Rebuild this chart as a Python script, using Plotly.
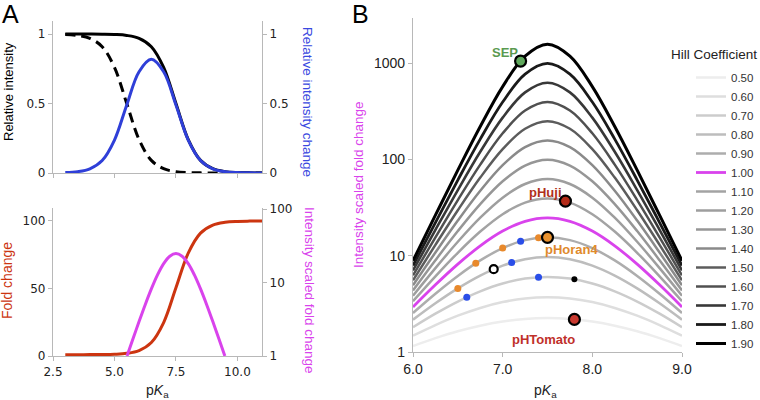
import math
import plotly.graph_objects as go

# ---------------- Panel A data ----------------
pka_a = [3.0, 3.5, 4.0, 4.5, 5.0, 5.5, 6.0, 6.5, 7.0, 7.5, 8.0, 8.5, 9.0, 9.5, 10.0, 10.5, 11.0]
intensity_ph75 = [0.99997, 0.9999, 0.99968, 0.9990, 0.99685, 0.9901, 0.9693, 0.9091, 0.7597, 0.5,
                  0.2403, 0.0909, 0.0307, 0.0099, 0.00315, 0.001, 0.0003]
intensity_ph55 = [0.99685, 0.9901, 0.9693, 0.9091, 0.7597, 0.5, 0.2403, 0.0909, 0.0307, 0.0099,
                  0.00315, 0.001, 0.0003, 0.0001, 0.00003, 0.00001, 0.0]
intensity_change = [0.0031, 0.0098, 0.0304, 0.0899, 0.2372, 0.4901, 0.7290, 0.8182, 0.7290, 0.4901,
                    0.2372, 0.0899, 0.0304, 0.0098, 0.0031, 0.0010, 0.0003]
fold_change = [1.003, 1.010, 1.031, 1.099, 1.312, 1.980, 4.035, 10.0, 24.78, 50.5,
               76.21, 91.0, 96.97, 99.02, 99.69, 99.90, 99.97]
pka_a_scaled = [5.51, 5.75, 6.0, 6.25, 6.5, 6.75, 7.0, 7.25, 7.5, 7.75, 8.0, 8.25, 8.5, 8.75, 9.0, 9.25, 9.49]
scaled_fold_a = [1.0, 1.70, 2.94, 4.99, 8.18, 12.69, 18.07, 22.81, 24.75, 22.81, 18.07, 12.69,
                 8.18, 4.99, 2.94, 1.70, 1.0]

# ---------------- Panel B data ----------------
pka_b = [6.0, 6.25, 6.5, 6.75, 7.0, 7.25, 7.5, 7.75, 8.0, 8.25, 8.5, 8.75, 9.0]
hill_labels = ["0.50", "0.60", "0.70", "0.80", "0.90", "1.00", "1.10", "1.20", "1.30",
               "1.40", "1.50", "1.60", "1.70", "1.80", "1.90"]
curve_050 = [1.154, 1.394, 1.643, 1.878, 2.073, 2.204, 2.250, 2.204, 2.073, 1.878, 1.643, 1.394, 1.154]
curve_060 = [1.475, 1.903, 2.383, 2.870, 3.302, 3.604, 3.712, 3.604, 3.302, 2.870, 2.383, 1.903, 1.475]
curve_070 = [1.812, 2.504, 3.345, 4.270, 5.148, 5.792, 6.030, 5.792, 5.148, 4.270, 3.345, 2.504, 1.812]
curve_080 = [2.167, 3.208, 4.583, 6.227, 7.904, 9.206, 9.703, 9.206, 7.904, 6.227, 4.583, 3.208, 2.167]
curve_090 = [2.542, 4.030, 6.167, 8.944, 12.003, 14.527, 15.524, 14.527, 12.003, 8.944, 6.167, 4.030, 2.542]
curve_100 = [2.942, 4.990, 8.182, 12.690, 18.071, 22.808, 24.750, 22.808, 18.071, 12.690, 8.182, 4.990, 2.942]
curve_110 = [3.373, 6.115, 10.736, 17.830, 27.014, 35.676, 39.37, 35.676, 27.014, 17.830, 10.736, 6.115, 3.373]
curve_120 = [3.842, 7.434, 13.968, 24.847, 40.144, 55.641, 62.55, 55.641, 40.144, 24.847, 13.968, 7.434, 3.842]
curve_130 = [4.357, 8.986, 18.048, 34.392, 59.352, 86.578, 99.28, 86.578, 59.352, 34.392, 18.048, 8.986, 4.357]
curve_140 = [4.925, 10.814, 23.195, 47.334, 87.356, 134.45, 157.49, 134.45, 87.356, 47.334, 23.195, 10.814, 4.925]
curve_150 = [5.555, 12.974, 29.68, 64.83, 128.06, 208.42, 249.75, 208.42, 128.06, 64.83, 29.68, 12.974, 5.555]
curve_160 = [6.256, 15.527, 37.86, 88.43, 187.04, 322.59, 395.98, 322.59, 187.04, 88.43, 37.86, 15.527, 6.256]
curve_170 = [7.037, 18.55, 48.16, 120.2, 272.3, 498.5, 627.7, 498.5, 272.3, 120.2, 48.16, 18.55, 7.037]
curve_180 = [7.910, 22.13, 61.13, 162.9, 395.3, 769.4, 995.0, 769.4, 395.3, 162.9, 61.13, 22.13, 7.910]
curve_190 = [8.886, 26.38, 77.46, 220.2, 572.2, 1185.7, 1577.2, 1185.7, 572.2, 220.2, 77.46, 26.38, 8.886]

# probe points
orange_x = [6.5, 6.7, 7.0, 7.4]
orange_y = [4.58, 8.35, 12.0, 15.36]
blue_x = [6.6, 7.1, 7.2, 7.4]
blue_y = [3.71, 8.50, 14.12, 5.99]
black_x = [7.8]
black_y = [5.69]
open_x = [6.9]
open_y = [7.25]
named_labels = ["SEP", "pHuji", "pHoran4", "pHTomato"]
named_x = [7.2, 7.7, 7.5, 7.8]
named_y = [1054, 36.95, 15.52, 2.18]

# ---------------- styling ----------------
W, H = 760, 400
def px(x): return x / W
def py(y): return 1 - y / H

BLUE = "#2f3fd8"
RED = "#cc3510"
MAGENTA = "#d943ec"
AXIS = "#b8b8b8"
curve_colors = ["#ededed", "#dedede", "#cccccc", "#bdbdbd", "#adadad", MAGENTA, "#a3a3a3", "#9e9e9e",
                "#969696", "#8a8a8a", "#5c5c5c", "#505050", "#383838", "#1a1a1a", "#000000"]
curve_widths = [2.5, 2.5, 2.5, 2.5, 2.5, 2.8, 2.5, 2.5, 2.5, 2.5, 2.5, 2.5, 2.6, 2.8, 3.0]
curves_b = [curve_050, curve_060, curve_070, curve_080, curve_090, curve_100, curve_110, curve_120,
            curve_130, curve_140, curve_150, curve_160, curve_170, curve_180, curve_190]

fig = go.Figure()

# Panel A top
fig.add_trace(go.Scatter(x=pka_a, y=intensity_ph55, mode="lines",
                         line=dict(color="black", width=3, dash="10px,6px", shape="spline"),
                         xaxis="x", yaxis="y", showlegend=False))
fig.add_trace(go.Scatter(x=pka_a, y=intensity_ph75, mode="lines", line=dict(color="black", width=3, shape="spline"),
                         xaxis="x", yaxis="y", showlegend=False))
fig.add_trace(go.Scatter(x=pka_a, y=intensity_change, mode="lines", line=dict(color=BLUE, width=3, shape="spline"),
                         xaxis="x", yaxis="y2", showlegend=False))
# Panel A bottom
fig.add_trace(go.Scatter(x=pka_a, y=fold_change, mode="lines", line=dict(color=RED, width=3, shape="spline"),
                         xaxis="x2", yaxis="y3", showlegend=False))
fig.add_trace(go.Scatter(x=pka_a_scaled, y=scaled_fold_a, mode="lines", line=dict(color=MAGENTA, width=3, shape="spline"),
                         xaxis="x2", yaxis="y4", showlegend=False))

# Panel B curves
for lab, vals, col, w in zip(hill_labels, curves_b, curve_colors, curve_widths):
    fig.add_trace(go.Scatter(x=pka_b, y=vals, mode="lines", name=lab,
                             line=dict(color=col, width=w, shape="spline"),
                             xaxis="x3", yaxis="y5", showlegend=True))

fig.add_trace(go.Scatter(x=orange_x, y=orange_y, mode="markers", marker=dict(color="#e8892c", size=7),
                         xaxis="x3", yaxis="y5", showlegend=False))
fig.add_trace(go.Scatter(x=blue_x, y=blue_y, mode="markers", marker=dict(color="#2a4ee8", size=7),
                         xaxis="x3", yaxis="y5", showlegend=False))
fig.add_trace(go.Scatter(x=black_x, y=black_y, mode="markers", marker=dict(color="#000000", size=6),
                         xaxis="x3", yaxis="y5", showlegend=False))
fig.add_trace(go.Scatter(x=open_x, y=open_y, mode="markers",
                         marker=dict(color="white", size=8, line=dict(color="black", width=2.2)),
                         xaxis="x3", yaxis="y5", showlegend=False))
fig.add_trace(go.Scatter(x=named_x, y=named_y, mode="markers",
                         marker=dict(color=["#5fa85c", "#b32a18", "#e8912e", "#c9392f"], size=11,
                                     line=dict(color="black", width=2.2)),
                         xaxis="x3", yaxis="y5", showlegend=False))

tickfont_a = dict(family="DejaVu Sans", size=12, color="#222")
tickfont_b = dict(family="Liberation Sans", size=14, color="#222")
common = dict(showline=True, linecolor=AXIS, linewidth=1.2, ticks="outside", ticklen=4, tickcolor=AXIS,
              showgrid=False, zeroline=False, automargin=False)

fig.update_layout(
    width=W, height=H, margin=dict(l=0, r=0, t=0, b=0, autoexpand=False),
    paper_bgcolor="white", plot_bgcolor="white",
    xaxis=dict(domain=[px(53), px(262)], range=[2.5, 11], anchor="y", tickvals=[2.5, 5, 7.5, 10],
               showticklabels=False, **common),
    yaxis=dict(domain=[py(173), py(21)], range=[0, 1.094], anchor="x", tickvals=[0, 0.5, 1],
               ticktext=["0", "0.5", "1"], tickfont=tickfont_a, **common),
    yaxis2=dict(overlaying="y", side="right", anchor="x", range=[0, 1.094], tickvals=[0, 0.5, 1],
                ticktext=["0", "0.5", "1"], tickfont=tickfont_a, **common),
    xaxis2=dict(domain=[px(53), px(262)], range=[2.5, 11], anchor="y3", tickvals=[2.5, 5, 7.5, 10],
                ticktext=["2.5", "5.0", "7.5", "10.0"], tickfont=tickfont_a, **common),
    yaxis3=dict(domain=[py(356), py(208)], range=[0, 109.6], anchor="x2", tickvals=[0, 50, 100],
                tickfont=tickfont_a, **common),
    yaxis4=dict(overlaying="y3", side="right", anchor="x2", type="log", range=[0, 2.014],
                tickvals=[1, 10, 100], ticktext=["1", "10", "100"], tickfont=tickfont_a, **common),
    xaxis3=dict(domain=[px(413), px(682)], range=[6, 9], anchor="y5", tickvals=[6, 7, 8, 9],
                ticktext=["6.0", "7.0", "8.0", "9.0"], tickfont=tickfont_b, **common),
    yaxis5=dict(domain=[py(352), py(18)], type="log", range=[0, 3.47], anchor="x3",
                tickvals=[1, 10, 100, 1000], ticktext=["1", "10", "100", "1000"], tickfont=tickfont_b, **common),
    legend=dict(x=px(691), y=py(63), xanchor="left", yanchor="top", bgcolor="rgba(0,0,0,0)",
                font=dict(family="Liberation Sans", size=11.5, color="#333"), traceorder="normal",
                itemwidth=30, borderwidth=0),
    font=dict(family="Liberation Sans"),
)

ann = []
def add_text(text, x, y, size=13, color="black", angle=0, xanchor="center", yanchor="middle"):
    ann.append(dict(text=text, x=x, y=y, xref="paper", yref="paper",
                    showarrow=False, textangle=angle, xanchor=xanchor, yanchor=yanchor,
                    font=dict(size=size, color=color, family="Liberation Sans")))

add_text("A", px(10), py(14), size=25)
add_text("B", px(360), py(14), size=25)
add_text("Relative intensity", px(8), py(92), size=13, angle=-90)
add_text("Relative intensity change", px(308), py(102), size=13.5, color="#3a48e0", angle=90)
add_text("Fold change", px(7), py(281), size=14, color=RED, angle=-90)
add_text("Intensity scaled fold change", px(310), py(290), size=13.5, color=MAGENTA, angle=90)
add_text("Intensity scaled fold change", px(358), py(185), size=13.5, color=MAGENTA, angle=-90)
add_text("p<i>K</i><sub>a</sub>", px(157), py(391), size=14, color="#222")
add_text("p<i>K</i><sub>a</sub>", px(545), py(391), size=14, color="#222")
add_text("Hill Coefficient", px(669), py(55), size=13.5, color="#222", xanchor="left")
fig.update_layout(annotations=ann)

# labels of named probes, anchored to their data points
label_style = [
    dict(color="#5a9a50", xanchor="right", xshift=-1, yshift=9),
    dict(color="#b0301c", xanchor="right", xshift=-1, yshift=9),
    dict(color="#e08a2c", xanchor="left", xshift=-5, yshift=-12),
    dict(color="#c0302a", xanchor="center", xshift=-31, yshift=-20),
]
for lab, x, y, st in zip(named_labels, named_x, named_y, label_style):
    fig.add_annotation(text=f"<b>{lab}</b>", x=x, y=math.log10(y), xref="x3", yref="y5", showarrow=False,
                       xanchor=st["xanchor"], yanchor="middle", xshift=st["xshift"], yshift=st["yshift"],
                       font=dict(size=13, color=st["color"], family="Liberation Sans"))

fig.write_html("out.html", config={"displayModeBar": False},
               post_script="document.body.style.margin='0px';document.body.style.overflow='hidden';")
